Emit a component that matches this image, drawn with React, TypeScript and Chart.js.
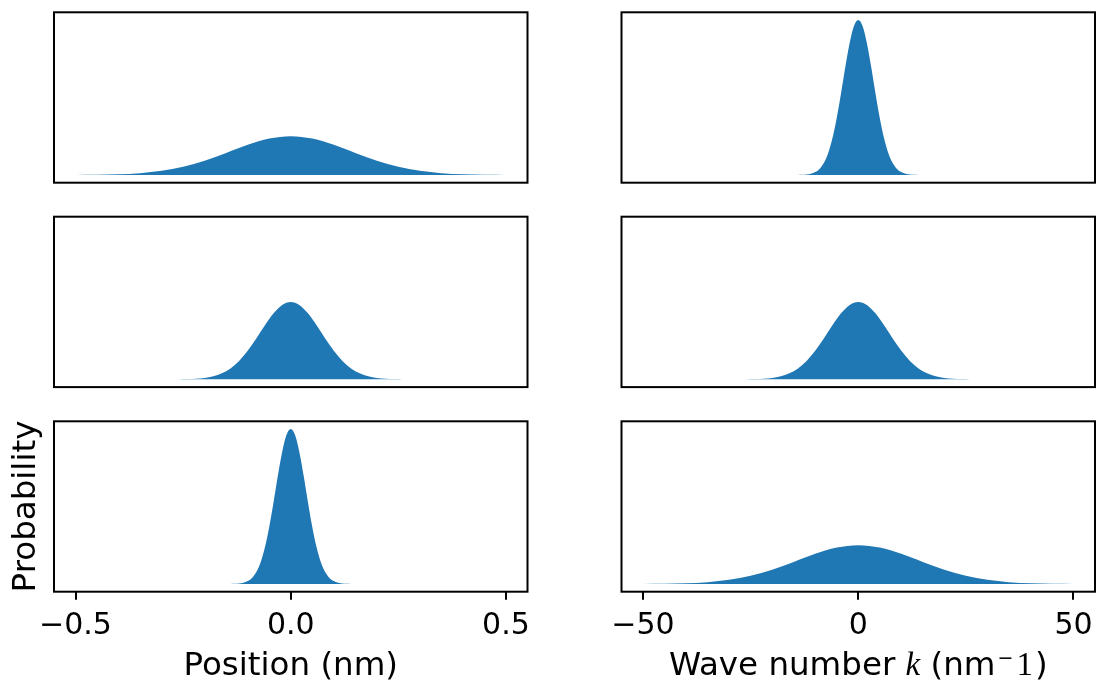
import React, { useEffect, useRef } from "react";
import { Chart, registerables } from "chart.js";

Chart.register(...registerables);

// ---------------- data ----------------
// Left column: position (nm)
const posTop = [-0.5, -0.45, -0.4, -0.35, -0.3, -0.25, -0.2, -0.15, -0.1, -0.05, 0, 0.05, 0.1, 0.15, 0.2, 0.25, 0.3, 0.35, 0.4, 0.45, 0.5];
const probPosTop = [0.0005, 0.0016, 0.0046, 0.0117, 0.0264, 0.0524, 0.092, 0.1424, 0.1947, 0.2348, 0.25, 0.2348, 0.1947, 0.1424, 0.092, 0.0524, 0.0264, 0.0117, 0.0046, 0.0016, 0.0005];

const posMid = [-0.32, -0.3, -0.28, -0.26, -0.24, -0.22, -0.2, -0.18, -0.16, -0.14, -0.12, -0.1, -0.08, -0.06, -0.04, -0.02, 0, 0.02, 0.04, 0.06, 0.08, 0.1, 0.12, 0.14, 0.16, 0.18, 0.2, 0.22, 0.24, 0.26, 0.28, 0.3, 0.32];
const probPosMid = [0, 0.0001, 0.0002, 0.0006, 0.0016, 0.004, 0.0092, 0.0196, 0.0387, 0.0704, 0.1185, 0.1839, 0.2636, 0.3488, 0.4261, 0.4804, 0.5, 0.4804, 0.4261, 0.3488, 0.2636, 0.1839, 0.1185, 0.0704, 0.0387, 0.0196, 0.0092, 0.004, 0.0016, 0.0006, 0.0002, 0.0001, 0];

const posBottom = [-0.16, -0.15, -0.14, -0.13, -0.12, -0.11, -0.1, -0.09, -0.08, -0.07, -0.06, -0.05, -0.04, -0.03, -0.02, -0.01, 0, 0.01, 0.02, 0.03, 0.04, 0.05, 0.06, 0.07, 0.08, 0.09, 0.1, 0.11, 0.12, 0.13, 0.14, 0.15, 0.16];
const probPosBottom = [0, 0.0001, 0.0004, 0.0012, 0.0032, 0.0079, 0.0183, 0.0392, 0.0773, 0.1409, 0.2369, 0.3679, 0.5273, 0.6977, 0.8521, 0.9608, 1, 0.9608, 0.8521, 0.6977, 0.5273, 0.3679, 0.2369, 0.1409, 0.0773, 0.0392, 0.0183, 0.0079, 0.0032, 0.0012, 0.0004, 0.0001, 0];

// Right column: wave number k (nm^-1)
const waveTop = [-16, -15, -14, -13, -12, -11, -10, -9, -8, -7, -6, -5, -4, -3, -2, -1, 0, 1, 2, 3, 4, 5, 6, 7, 8, 9, 10, 11, 12, 13, 14, 15, 16];
const probWaveTop = [0, 0.0001, 0.0004, 0.0012, 0.0032, 0.0079, 0.0183, 0.0392, 0.0773, 0.1409, 0.2369, 0.3679, 0.5273, 0.6977, 0.8521, 0.9608, 1, 0.9608, 0.8521, 0.6977, 0.5273, 0.3679, 0.2369, 0.1409, 0.0773, 0.0392, 0.0183, 0.0079, 0.0032, 0.0012, 0.0004, 0.0001, 0];

const waveMid = [-32, -30, -28, -26, -24, -22, -20, -18, -16, -14, -12, -10, -8, -6, -4, -2, 0, 2, 4, 6, 8, 10, 12, 14, 16, 18, 20, 22, 24, 26, 28, 30, 32];
const probWaveMid = [0, 0.0001, 0.0002, 0.0006, 0.0016, 0.004, 0.0092, 0.0196, 0.0387, 0.0704, 0.1185, 0.1839, 0.2636, 0.3488, 0.4261, 0.4804, 0.5, 0.4804, 0.4261, 0.3488, 0.2636, 0.1839, 0.1185, 0.0704, 0.0387, 0.0196, 0.0092, 0.004, 0.0016, 0.0006, 0.0002, 0.0001, 0];

const waveBottom = [-50, -45, -40, -35, -30, -25, -20, -15, -10, -5, 0, 5, 10, 15, 20, 25, 30, 35, 40, 45, 50];
const probWaveBottom = [0.0005, 0.0016, 0.0046, 0.0117, 0.0264, 0.0524, 0.092, 0.1424, 0.1947, 0.2348, 0.25, 0.2348, 0.1947, 0.1424, 0.092, 0.0524, 0.0264, 0.0117, 0.0046, 0.0016, 0.0005];

const posTicks = [-0.5, 0, 0.5];
const posTickLabels = ["\u22120.5", "0.0", "0.5"];
const waveTicks = [-50, 0, 50];
const waveTickLabels = ["\u221250", "0", "50"];
const posRange = [-0.55, 0.55];
const waveRange = [-55, 55];
const probRange = [-0.05, 1.05];

// ---------------- styling / layout ----------------
const BLUE = "#1f77b4";
const SANS = "'DejaVu Sans', sans-serif";
const SERIF = "'Liberation Serif', 'DejaVu Serif', serif";
const PAGE_W = 1099;
const PAGE_H = 683;
const COL_X = [54, 621.5];
const COL_W = 473.5;
const ROW_Y = [12.3, 216.7, 421.3];
const ROW_H = 170.4;
const SPLIT = 572;
const TITLE_SIZE = 32.5;

type Spec = { key: string; col: number; row: number; xs: number[]; ys: number[] };

const specs: Spec[] = [
  { key: "pt", col: 0, row: 0, xs: posTop, ys: probPosTop },
  { key: "pm", col: 0, row: 1, xs: posMid, ys: probPosMid },
  { key: "pb", col: 0, row: 2, xs: posBottom, ys: probPosBottom },
  { key: "wt", col: 1, row: 0, xs: waveTop, ys: probWaveTop },
  { key: "wm", col: 1, row: 1, xs: waveMid, ys: probWaveMid },
  { key: "wb", col: 1, row: 2, xs: waveBottom, ys: probWaveBottom },
];

function boxFor(col: number, row: number) {
  const L = COL_X[col];
  const R = L + COL_W;
  const T = ROW_Y[row];
  const B = T + ROW_H;
  if (row < 2) {
    const x = Math.floor(L - 8);
    const y = Math.floor(T - 8);
    const w = Math.ceil(R + 8) - x;
    const h = Math.ceil(B + 8) - y;
    return { x, y, w, h, pad: { left: L - x, top: T - y, right: x + w - R, bottom: y + h - B }, axisH: 0 };
  }
  const x = col === 0 ? 0 : SPLIT;
  const w = col === 0 ? SPLIT : PAGE_W + 60 - SPLIT;
  const y = Math.floor(T - 8);
  const h = PAGE_H - y;
  return { x, y, w, h, pad: { left: L - x, top: T - y, right: x + w - R, bottom: 0 }, axisH: PAGE_H - B };
}

function drawParts(ctx: CanvasRenderingContext2D, parts: { t: string; f: string; dy: number; gap?: number }[], cx: number, baseline: number) {
  let total = 0;
  const widths = parts.map((p) => {
    ctx.font = p.f;
    const w = ctx.measureText(p.t).width + (p.gap || 0);
    total += w;
    return w;
  });
  let x = cx - total / 2;
  ctx.textAlign = "left";
  ctx.textBaseline = "alphabetic";
  ctx.fillStyle = "#000";
  parts.forEach((p, i) => {
    ctx.font = p.f;
    ctx.fillText(p.t, x, baseline + p.dy);
    x += widths[i];
  });
}

function Panel({ spec }: { spec: Spec }) {
  const ref = useRef<HTMLCanvasElement>(null);
  const box = boxFor(spec.col, spec.row);

  useEffect(() => {
    const canvas = ref.current;
    if (!canvas) return;
    const isBottom = spec.row === 2;
    const tickVals = spec.col === 0 ? posTicks : waveTicks;
    const tickLabels = spec.col === 0 ? posTickLabels : waveTickLabels;
    const range = spec.col === 0 ? posRange : waveRange;

    const framePlugin = {
      id: "frame",
      afterDraw(chart: any) {
        const { ctx, chartArea } = chart;
        ctx.save();
        ctx.strokeStyle = "#000";
        ctx.lineWidth = 2;
        ctx.strokeRect(chartArea.left, chartArea.top, chartArea.right - chartArea.left, chartArea.bottom - chartArea.top);
        ctx.restore();
      },
    };

    const titlePlugin = {
      id: "titles",
      afterDraw(chart: any) {
        if (!isBottom) return;
        const ctx = chart.ctx as CanvasRenderingContext2D;
        const ca = chart.chartArea;
        const cx = (ca.left + ca.right) / 2;
        const baseline = 675 - box.y;
        ctx.save();
        if (spec.col === 0) {
          drawParts(ctx, [{ t: "Position (nm)", f: `${TITLE_SIZE}px ${SANS}`, dy: 0 }], cx, baseline);
          // y-axis title
          ctx.translate(27 - box.x, (ca.top + ca.bottom) / 2);
          ctx.rotate(-Math.PI / 2);
          ctx.font = `${TITLE_SIZE}px ${SANS}`;
          ctx.textAlign = "center";
          ctx.textBaseline = "middle";
          ctx.fillStyle = "#000";
          ctx.fillText("Probability", 0, 0);
        } else {
          drawParts(
            ctx,
            [
              { t: "Wave number ", f: `${TITLE_SIZE}px ${SANS}`, dy: 0 },
              { t: "k", f: `italic 33px ${SERIF}`, dy: 0 },
              { t: " (nm", f: `${TITLE_SIZE}px ${SANS}`, dy: 0, gap: 2 },
              { t: "\u2212", f: `19px ${SANS}`, dy: -11, gap: 3 },
              { t: "1", f: `33px ${SERIF}`, dy: 0, gap: 2 },
              { t: ")", f: `${TITLE_SIZE}px ${SANS}`, dy: 0 },
            ],
            cx,
            baseline
          );
        }
        ctx.restore();
      },
    };

    const chart = new Chart(canvas, {
      type: "line",
      data: {
        datasets: [
          {
            data: spec.xs.map((x, i) => ({ x, y: spec.ys[i] })),
            backgroundColor: BLUE,
            borderColor: "rgba(0,0,0,0)",
            borderWidth: 0,
            pointRadius: 0,
            fill: "origin",
            cubicInterpolationMode: "monotone",
          },
        ],
      },
      options: {
        animation: false,
        responsive: false,
        events: [],
        layout: { padding: box.pad },
        plugins: { legend: { display: false }, tooltip: { enabled: false } },
        scales: {
          x: {
            type: "linear",
            min: range[0],
            max: range[1],
            display: isBottom,
            afterBuildTicks: (s: any) => {
              s.ticks = tickVals.map((v) => ({ value: v }));
            },
            afterFit: (s: any) => {
              s.height = box.axisH;
            },
            ticks: {
              autoSkip: false,
              maxRotation: 0,
              minRotation: 0,
              color: "#000",
              padding: 12,
              font: { family: SANS, size: 30, lineHeight: 1 },
              callback: (_v: any, i: number) => tickLabels[i],
            },
            grid: {
              display: true,
              drawOnChartArea: false,
              drawTicks: true,
              tickLength: 8,
              color: "#000",
              lineWidth: 2,
            },
            border: { display: false },
          },
          y: {
            type: "linear",
            min: probRange[0],
            max: probRange[1],
            display: false,
          },
        },
      } as any,
      plugins: [framePlugin, titlePlugin],
    });
    return () => chart.destroy();
  }, []);

  return (
    <div style={{ position: "absolute", left: box.x, top: box.y, width: box.w, height: box.h }}>
      <canvas ref={ref} width={box.w} height={box.h} style={{ width: box.w, height: box.h, display: "block" }} />
    </div>
  );
}

export default function App() {
  return (
    <div style={{ position: "absolute", left: 0, top: 0, width: PAGE_W, height: PAGE_H, background: "#fff", overflow: "hidden" }}>
      {specs.map((s) => (
        <Panel key={s.key} spec={s} />
      ))}
    </div>
  );
}
